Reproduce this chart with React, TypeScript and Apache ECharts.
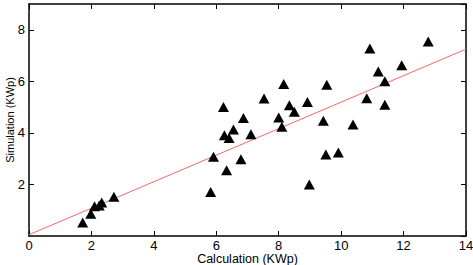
import React, { useEffect, useRef } from "react";
import * as echarts from "echarts";

// Measured points: calculated vs simulated output (KWp)
const calcKWp = [
  1.72, 1.98, 2.1, 2.25, 2.33, 2.72, 5.82, 5.91, 6.23, 6.26, 6.33, 6.41,
  6.55, 6.79, 6.87, 7.11, 7.53, 8.0, 8.1, 8.16, 8.34, 8.5, 8.92, 8.98,
  9.43, 9.51, 9.54, 9.91, 10.38, 10.82, 10.92, 11.19, 11.4, 11.4, 11.94, 12.79,
];
const simKWp = [
  0.52, 0.86, 1.15, 1.18, 1.3, 1.52, 1.71, 3.07, 5.0, 3.91, 2.55, 3.8,
  4.13, 2.98, 4.58, 3.95, 5.33, 4.6, 4.24, 5.9, 5.07, 4.82, 5.2, 2.0,
  4.47, 3.16, 5.87, 3.24, 4.33, 5.34, 7.27, 6.38, 6.0, 5.09, 6.62, 7.55,
];

// Fitted trend line end points
const fitX = [0, 14];
const fitY = [0.05, 7.25];

const xTicks = { min: 0, max: 14, interval: 2 };
const yTicks = { min: 0, max: 9, interval: 2 };

const FONT = "Liberation Sans, Arial, sans-serif";

export default function App() {
  const ref = useRef<HTMLDivElement>(null);

  useEffect(() => {
    if (!ref.current) return;
    const chart = echarts.init(ref.current, undefined, { renderer: "svg" });

    const axisLine = {
      show: true,
      onZero: false,
      lineStyle: { color: "#000", width: 1.5 },
    };
    const axisTick = {
      show: true,
      inside: true,
      length: 5,
      lineStyle: { color: "#000", width: 1 },
    };

    chart.setOption({
      animation: false,
      backgroundColor: "#fff",
      grid: {
        left: 29,
        right: 7,
        top: 4,
        bottom: 29,
        containLabel: false,
        outerBoundsMode: "none",
      },
      xAxis: [
        {
          type: "value",
          position: "bottom",
          ...xTicks,
          name: "Calculation (KWp)",
          nameLocation: "middle",
          nameGap: 17,
          nameMoveOverlap: false,
          nameTextStyle: {
            fontFamily: FONT,
            fontSize: 12.5,
            lineHeight: 12.5,
            color: "#000",
          },
          axisLine,
          axisTick,
          splitLine: { show: false },
          axisLabel: {
            fontFamily: FONT,
            fontSize: 13,
            lineHeight: 13,
            color: "#000",
            margin: 3,
          },
        },
        {
          type: "value",
          position: "top",
          ...xTicks,
          axisLine,
          axisTick,
          splitLine: { show: false },
          axisLabel: { show: false },
        },
      ],
      yAxis: [
        {
          type: "value",
          position: "left",
          ...yTicks,
          name: "Simulation (KWp)",
          nameLocation: "middle",
          nameGap: 14,
          nameMoveOverlap: false,
          nameTextStyle: { fontFamily: FONT, fontSize: 11, color: "#000" },
          axisLine,
          axisTick,
          splitLine: { show: false },
          axisLabel: {
            fontFamily: FONT,
            fontSize: 13,
            color: "#000",
            margin: 4,
            showMinLabel: false,
            showMaxLabel: false,
          },
        },
        {
          type: "value",
          position: "right",
          ...yTicks,
          axisLine,
          axisTick,
          splitLine: { show: false },
          axisLabel: { show: false },
        },
      ],
      series: [
        {
          type: "line",
          data: fitX.map((x, i) => [x, fitY[i]]),
          symbol: "none",
          lineStyle: { color: "#f06a6a", width: 1 },
          z: 1,
        },
        {
          type: "scatter",
          data: calcKWp.map((x, i) => [x, simKWp[i]]),
          symbol: "triangle",
          symbolSize: [11, 10],
          itemStyle: { color: "#000", opacity: 1 },
          z: 2,
        },
      ],
    });

    return () => chart.dispose();
  }, []);

  return (
    <div
      ref={ref}
      style={{ width: 473, height: 265, position: "absolute", left: 0, top: 0 }}
    />
  );
}
